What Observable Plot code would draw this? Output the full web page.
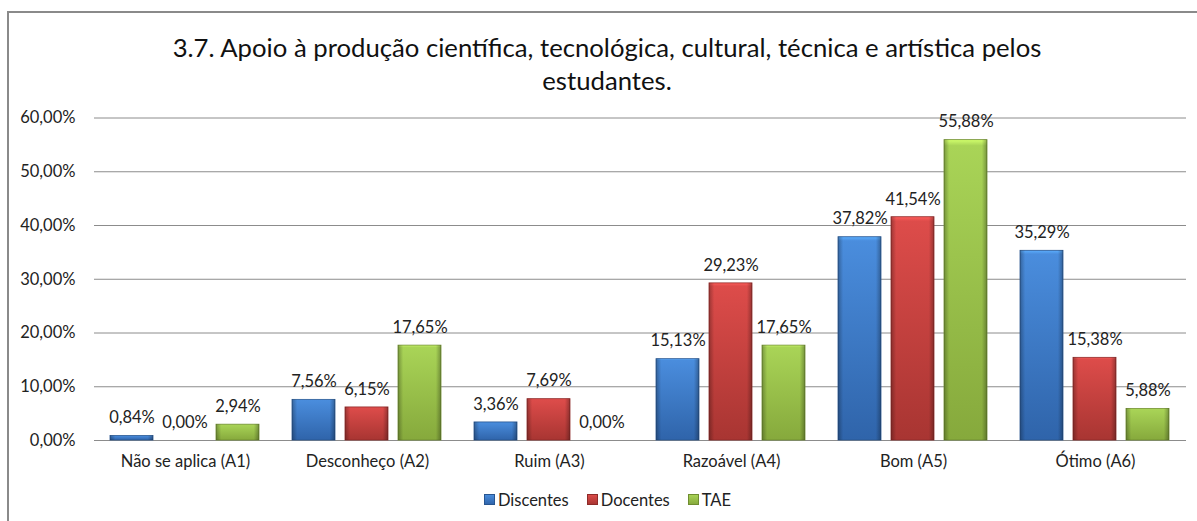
<!DOCTYPE html>
<html>
<head>
<meta charset="utf-8">
<script src="https://cdn.jsdelivr.net/npm/d3@7"></script>
<script src="https://cdn.jsdelivr.net/npm/@observablehq/plot@0.6"></script>
<style>
  body { margin:0; width:1197px; height:521px; overflow:hidden; background:#fff; font-family: Lato, "Open Sans", sans-serif; color:#222; }
  #frame { position:absolute; left:7px; top:11px; width:1300px; height:600px; border-left:2px solid #8a8a8a; border-top:2px solid #8a8a8a; box-sizing:border-box; }
  #title { position:absolute; left:7px; width:1200px; top:31px; text-align:center; font-size:25.7px; line-height:33px; color:#111; }
  #chart { position:absolute; left:0; top:105px; }
  #legend { position:absolute; left:9px; width:1197px; top:489px; text-align:center; font-size:16.5px; color:#222; }
  #legend span.item { display:inline-flex; align-items:center; margin:0 9px; }
  #legend svg { margin-right:3px; }
</style>
</head>
<body>
<div id="frame"></div>
<div id="title">3.7. Apoio à produção científica, tecnológica, cultural, técnica e artística pelos<br>estudantes.</div>
<div id="chart"></div>
<div id="legend"></div>
<script>
const categories = ["Não se aplica (A1)", "Desconheço (A2)", "Ruim (A3)", "Razoável (A4)", "Bom (A5)", "Ótimo (A6)"];
const series = ["Discentes", "Docentes", "TAE"];
const discentes = [0.84, 7.56, 3.36, 15.13, 37.82, 35.29];
const docentes  = [0.00, 6.15, 7.69, 29.23, 41.54, 15.38];
const tae       = [2.94, 17.65, 0.00, 17.65, 55.88, 5.88];
const yTicks = [0, 10, 20, 30, 40, 50, 60];

const seriesValues = [discentes, docentes, tae];
const data = [];
categories.forEach((c, i) => series.forEach((s, j) => data.push({category: c, series: s, value: seriesValues[j][i]})));

const fmt = v => v.toFixed(2).replace(".", ",") + "%";

const grads = {
  Discentes: {id: "gBlue",  top: "#4a8ddd", bot: "#2f64aa", edge: "#285590"},
  Docentes:  {id: "gRed",   top: "#dd4c4a", bot: "#a83532", edge: "#8e2b29"},
  TAE:       {id: "gGreen", top: "#a9d457", bot: "#86a93c", edge: "#6f8d30"}
};

const chart = Plot.plot({
  width: 1197,
  height: 375,
  marginTop: 12.5,
  marginBottom: 40,
  marginLeft: 93,
  marginRight: 9.25,
  style: {fontFamily: "Lato, 'Open Sans', sans-serif", color: "#222", background: "transparent"},
  fx: {domain: categories, padding: 0, label: null},
  x: {domain: series, paddingInner: 0.187, paddingOuter: 0.3, axis: null},
  y: {domain: [0, 60], label: null},
  color: {domain: series, range: series.map(s => `url(#${grads[s].id})`)},
  marks: [
    Plot.ruleY(yTicks, {y: d => d, stroke: "#8c8c8c", strokeWidth: 1}),
    Plot.axisY({ticks: yTicks, tickFormat: fmt, tickSize: 0, tickPadding: 19, fontSize: 16.5, label: null}),
    Plot.axisFx({anchor: "bottom", tickSize: 0, tickPadding: 15, fontSize: 16.5, label: null}),
    Plot.barY(data, {fx: "category", x: "series", y: "value", fill: "series", stroke: d => grads[d.series].edge, strokeWidth: 0.8}),
    Plot.barY(data, {fx: "category", x: "series", y: "value", fill: "url(#gSide)"}),
    Plot.text(data, {fx: "category", x: "series", y: "value", text: d => fmt(d.value), dy: -18, fontSize: 16.5, fill: "#222"})
  ]
});

const defs = d3.select(chart).insert("defs", ":first-child");
function addGrad(sel, g) {
  const lg = sel.append("linearGradient").attr("id", g.id).attr("x1", 0).attr("y1", 0).attr("x2", 0).attr("y2", 1);
  lg.append("stop").attr("offset", "0%").attr("stop-color", d3.color(g.top).brighter(0.6));
  lg.append("stop").attr("offset", "2%").attr("stop-color", g.top);
  lg.append("stop").attr("offset", "100%").attr("stop-color", g.bot);
}
Object.values(grads).forEach(g => addGrad(defs, g));
const side = defs.append("linearGradient").attr("id", "gSide").attr("x1", 0).attr("y1", 0).attr("x2", 1).attr("y2", 0);
[[0, 0.28], [0.12, 0.0], [0.88, 0.0], [1, 0.3]].forEach(([o, a]) =>
  side.append("stop").attr("offset", o).attr("stop-color", "#000").attr("stop-opacity", a));

document.getElementById("chart").appendChild(chart);

const legend = document.getElementById("legend");
series.forEach(s => {
  const g = grads[s];
  const item = document.createElement("span");
  item.className = "item";
  item.innerHTML = `<svg width="11" height="11"><defs><linearGradient id="l${g.id}" x1="0" y1="0" x2="0" y2="1"><stop offset="0" stop-color="${g.top}"/><stop offset="1" stop-color="${g.bot}"/></linearGradient></defs><rect x="0.5" y="0.5" width="10" height="10" fill="url(#l${g.id})" stroke="${g.edge}" stroke-width="1"/></svg>${s}`;
  legend.appendChild(item);
});
</script>
</body>
</html>
